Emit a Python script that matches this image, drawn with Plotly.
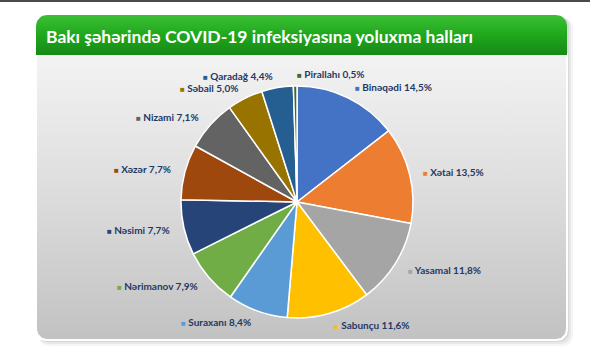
import math
import plotly.graph_objects as go

# ---- data ----
districts = ["Binəqədi", "Xətai", "Yasamal", "Sabunçu", "Suraxanı", "Nərimanov",
             "Nəsimi", "Xəzər", "Nizami", "Səbail", "Qaradağ", "Pirallahı"]
shares = [14.5, 13.5, 11.8, 11.6, 8.4, 7.9, 7.7, 7.7, 7.1, 5.0, 4.4, 0.5]
colors = ["#4472C4", "#ED7D31", "#A5A5A5", "#FFC000", "#5B9BD5", "#70AD47",
          "#264478", "#9E480E", "#636363", "#997300", "#255E91", "#43682B"]
title_text = "Bakı şəhərində COVID-19 infeksiyasına yoluxma halları"

W, H = 590, 353
CX, CY, R = 297, 202, 116      # pie centre / radius (px)
LR = 128                       # label radius (px)

def rounded_poly(x0, y0, x1, y1, rtop, rbot, n=8):
    pts = []
    def arc(cx, cy, r, a0, a1):
        out = []
        for i in range(n + 1):
            a = a0 + (a1 - a0) * i / n
            out.append((cx + r * math.cos(a), cy + r * math.sin(a)))
        return out
    if rtop:
        pts += arc(x0 + rtop, y0 + rtop, rtop, math.pi, 1.5 * math.pi)
        pts += arc(x1 - rtop, y0 + rtop, rtop, 1.5 * math.pi, 2 * math.pi)
    else:
        pts += [(x0, y0), (x1, y0)]
    if rbot:
        pts += arc(x1 - rbot, y1 - rbot, rbot, 0, 0.5 * math.pi)
        pts += arc(x0 + rbot, y1 - rbot, rbot, 0.5 * math.pi, math.pi)
    else:
        pts += [(x1, y1), (x0, y1)]
    pts.append(pts[0])
    return [p[0] for p in pts], [p[1] for p in pts]

fig = go.Figure()

# card shadow
for off, col in [(6, "rgba(0,0,0,0.04)"), (4, "rgba(0,0,0,0.05)"), (2, "rgba(0,0,0,0.07)")]:
    xs, ys = rounded_poly(36 + off / 2, 15 + off / 2, 567 + off, 340 + off, 10, 10)
    fig.add_trace(go.Scatter(x=xs, y=ys, fill="toself", mode="lines", line=dict(width=0),
                             fillcolor=col, hoverinfo="skip", showlegend=False))

# card body with white border
xs, ys = rounded_poly(35, 53, 568, 341, 0, 11)
fig.add_trace(go.Scatter(x=xs, y=ys, fill="toself", mode="lines", line=dict(width=0),
                         fillcolor="#ffffff", hoverinfo="skip", showlegend=False))
xs, ys = rounded_poly(37, 55, 566, 339, 0, 10)
fig.add_trace(go.Scatter(x=xs, y=ys, fill="toself", mode="lines", line=dict(width=0),
                         fillgradient=dict(type="vertical", start=55, stop=339,
                                           colorscale=[[0, "#f3f3f3"], [0.5, "#dcdcdc"], [1, "#c2c2c2"]]),
                         hoverinfo="skip", showlegend=False))
# green header
xs, ys = rounded_poly(36, 15, 567, 55, 11, 0)
fig.add_trace(go.Scatter(x=xs, y=ys, fill="toself", mode="lines", line=dict(width=0),
                         fillgradient=dict(type="vertical", start=15, stop=55,
                                           colorscale=[[0, "#3cbf34"], [0.5, "#1fa81c"], [1, "#158a15"]]),
                         hoverinfo="skip", showlegend=False))

# pie
fig.add_trace(go.Pie(
    labels=districts, values=shares, sort=False, direction="clockwise", rotation=0,
    marker=dict(colors=colors, line=dict(color="#ffffff", width=1.5)),
    textinfo="none", hoverinfo="label+percent", showlegend=False,
    domain=dict(x=[(CX - R) / W, (CX + R) / W], y=[1 - (CY + R) / H, 1 - (CY - R) / H]),
))

# labels
annotations = []
total = sum(shares)
cum = 0.0
for name, v, c in zip(districts, shares, colors):
    mid = (cum + v / 2) / total
    cum += v
    th = 2 * math.pi * mid
    dx = LR * math.sin(th)
    dy = LR * math.cos(th)
    px, py = CX + dx, CY - dy
    left = dx > -5
    txt = (f"<span style='color:{c};font-size:8px'>■</span> "
           f"{name} {str(v).replace('.', ',')}%")
    annotations.append(dict(x=px / W, y=1 - py / H, xref="paper", yref="paper",
                            text=txt, showarrow=False,
                            xanchor="left" if left else "right", yanchor="middle",
                            font=dict(family="Lato", size=10, color="#1f3864", weight="bold")))

annotations.append(dict(x=44 / W, y=1 - 36 / H, xref="paper", yref="paper",
                        text=title_text, showarrow=False, xanchor="left", yanchor="middle",
                        font=dict(family="Lato", size=17.5, color="#ffffff", weight="bold")))

fig.update_layout(
    width=W, height=H, margin=dict(l=0, r=0, t=0, b=0, pad=0),
    paper_bgcolor="#ffffff", plot_bgcolor="rgba(0,0,0,0)",
    xaxis=dict(range=[0, W], visible=False, fixedrange=True),
    yaxis=dict(range=[H, 0], visible=False, fixedrange=True),
    annotations=annotations,
    shapes=[dict(type="line", xref="paper", yref="paper", x0=0, x1=1,
                 y0=1 - 1 / H, y1=1 - 1 / H, line=dict(color="#4a4a4a", width=2))],
)

fig.write_html("out.html")
